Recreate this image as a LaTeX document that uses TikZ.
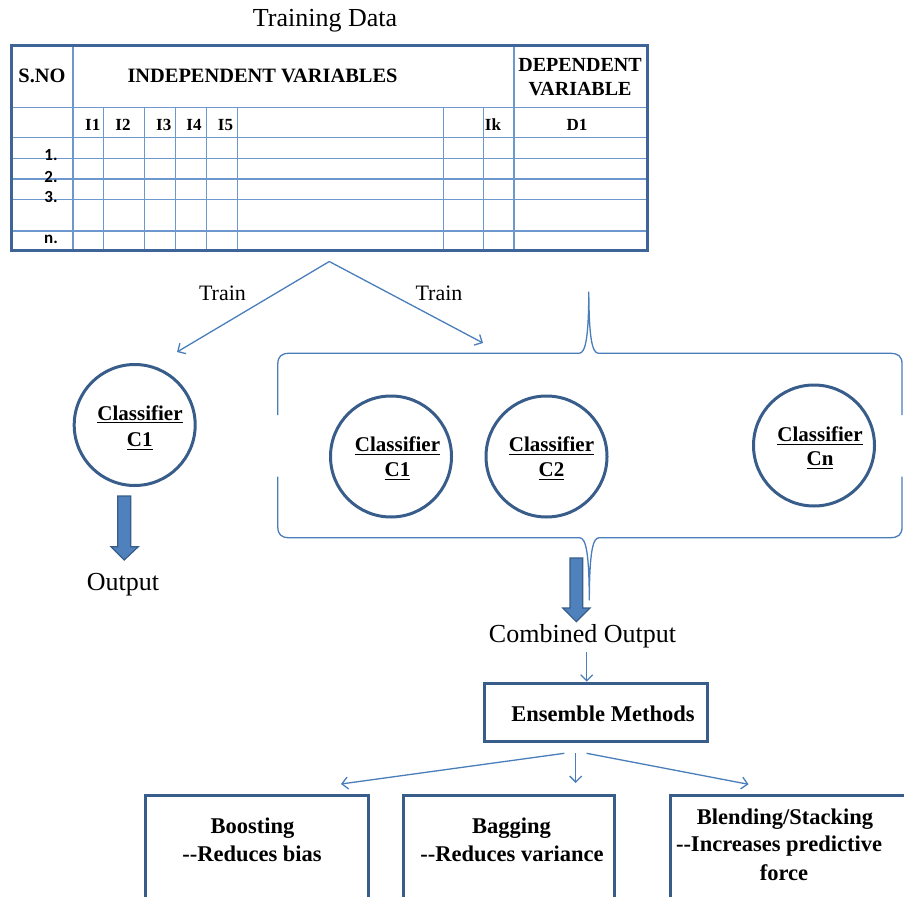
\documentclass[tikz,border=0pt]{standalone}
\usepackage{graphicx}
\usepackage{fontspec}
\setmainfont{Liberation Serif}[BoldFont={Liberation Serif Bold}]
\newfontfamily\heavyserif{Liberation Serif Bold}
\newfontfamily\numfont{Carlito}[BoldFont={Carlito Bold}]
\usetikzlibrary{arrows.meta}

\definecolor{gridouter}{RGB}{62,100,152}
\definecolor{gridinner}{RGB}{108,152,206}
\definecolor{ringblue}{RGB}{56,93,138}
\definecolor{linkblue}{RGB}{74,126,187}
\definecolor{bigfill}{RGB}{79,129,189}

% underline with a weight that suits large text
\newcommand\undl[1]{\setbox0\hbox{#1}\rlap{\rule[-3.2pt]{\wd0}{1.25pt}}\box0}
% bold labels are set at 20pt and enlarged as a whole
\newcommand\clf[1]{\scalebox{1.05}{\undl{#1}}}
\newcommand\bxt[1]{\scalebox{1.125}{#1}}

\tikzset{
  txt/.style={inner sep=0pt, anchor=base},
  hdr/.style={txt, font=\heavyserif\fontsize{20}{24}\selectfont},
  colhdr/.style={txt, font=\heavyserif\fontsize{17}{20}\selectfont},
  rownum/.style={txt, font=\numfont\bfseries\fontsize{17}{19}\selectfont},
  plain/.style={txt, font=\fontsize{26}{30}\selectfont},
  trainlbl/.style={txt, font=\fontsize{22}{26}\selectfont},
  clflbl/.style={txt, font=\heavyserif\fontsize{20}{24}\selectfont},
  boxlbl/.style={txt, font=\heavyserif\fontsize{20}{24}\selectfont},
  ring/.style={draw=ringblue, line width=3pt, circle, minimum size=121pt, inner sep=0pt},
  frame/.style={draw=ringblue, line width=3pt, rectangle, inner sep=0pt},
  gridline/.style={draw=gridinner, line width=1.5pt},
  link/.style={draw=linkblue, line width=1.3pt, -{Straight Barb[length=6pt,width=12pt]}},
  brace/.style={draw=linkblue, line width=1.3pt, line join=round},
  fatarrow/.style={fill=bigfill, draw=ringblue, line width=1.2pt, line join=miter},
}

\begin{document}
\begin{tikzpicture}[x=1pt, y=-1pt]
\useasboundingbox (0,0) rectangle (904,896);
\clip (0,0) rectangle (904,896);

% ---------- training data table ----------
\node[plain] (title) at (325,27) {Training Data};

\foreach \yy in {107.7,137.7,158.3,179,199.7,231}
  \draw[gridline] (11,\yy) -- (648,\yy);
\foreach \xx in {103.7,144.7,175.7,206.3,237.7,443.3,483.3}
  \draw[gridline] (\xx,107.7) -- (\xx,250.5);
\foreach \xx in {73,514}
  \draw[gridline] (\xx,45) -- (\xx,250.5);
\draw[gridouter, line width=2.8pt] (11.5,45.5) rectangle (647.5,250.5);

\node[hdr] (sno) at (42,82.7) {\scalebox{1.02}{S.NO}};
\node[hdr] (indep) at (262.5,82.7) {\scalebox{1.02}{INDEPENDENT VARIABLES}};
\node[hdr] (dep1) at (580,71.7) {DEPENDENT};
\node[hdr] (dep2) at (580,95.7) {VARIABLE};

\node[colhdr] (i1) at (92.7,130.7) {I1};
\node[colhdr] (i2) at (123,130.7) {I2};
\node[colhdr] (i3) at (163.7,130.7) {I3};
\node[colhdr] (i4) at (194,130.7) {I4};
\node[colhdr] (i5) at (225.5,130.7) {I5};
\node[colhdr] (ik) at (493,130.7) {Ik};
\node[colhdr] (d1) at (577,130.7) {D1};

\node[rownum] (r1) at (51,160.5) {1.};
\node[rownum] (r2) at (51,182.5) {2.};
\node[rownum] (r3) at (51,202.5) {3.};
\node[rownum] (rn) at (51,243.3) {n.};

% ---------- training split ----------
\coordinate (fork) at (329.3,261.5);
\coordinate (leftend) at (177,352);
\coordinate (rightend) at (483,343);
\draw[link] (fork) -- (leftend);
\draw[link] (fork) -- (rightend);
\node[trainlbl] (trainL) at (222.5,300.7) {Train};
\node[trainlbl] (trainR) at (439,300.7) {Train};

% ---------- single classifier ----------
\node[ring] (single) at (134.7,425) {};
\node[clflbl] (singleA) at (140,420) {\clf{Classifier}};
\node[clflbl] (singleB) at (139.7,446.5) {\clf{C1}};

\draw[fatarrow] (117.7,496) -- (130.7,496) -- (130.7,546.7) -- (138.3,546.7)
  -- (124.2,560) -- (111,546.7) -- (117.7,546.7) -- cycle;
\node[plain] (out) at (123,590) {Output};

% ---------- ensemble group enclosed by braces ----------
\draw[brace] (277.8,415) -- (277.8,364)
  .. controls (277.8,356.5) and (281.5,353.3) .. (289,353.3) -- (579,353.3)
  .. controls (585.5,353.3) and (588.6,338) .. (588.8,292)
  .. controls (589,338) and (592.1,353.3) .. (598.6,353.3) -- (890,353.3)
  .. controls (898.5,353.3) and (902,356.5) .. (902,364) -- (902,415);
\draw[brace] (277.8,476.7) -- (277.8,527)
  .. controls (277.8,534.5) and (281.5,537.7) .. (289,537.7) -- (579.5,537.7)
  .. controls (586,537.7) and (589.1,553) .. (589.3,600)
  .. controls (589.5,553) and (592.6,537.7) .. (599.1,537.7) -- (890,537.7)
  .. controls (898.5,537.7) and (902,534.5) .. (902,527) -- (902,476.7);

\node[ring] (ca) at (391,456.5) {};
\node[clflbl] (caA) at (397.5,451.7) {\clf{Classifier}};
\node[clflbl] (caB) at (397.5,476.7) {\clf{C1}};

\node[ring] (cb) at (546.5,456.5) {};
\node[clflbl] (cbA) at (551.5,451.7) {\clf{Classifier}};
\node[clflbl] (cbB) at (551.5,476.7) {\clf{C2}};

\node[ring] (cn) at (814,445.5) {};
\node[clflbl] (cnA) at (820,441.7) {\clf{Classifier}};
\node[clflbl] (cnB) at (820,465.5) {\clf{Cn}};

\draw[fatarrow] (570,558) -- (582.7,558) -- (582.7,608) -- (590,608)
  -- (576.3,621.7) -- (562.7,608) -- (570,608) -- cycle;
\node[plain] (comb) at (582.5,642.7) {Combined Output};

% ---------- ensemble methods ----------
\node[frame, minimum width=223pt, minimum height=58.6pt] (ens) at (596,712.5) {};
\node[boxlbl] (ensT) at (603,721) {\bxt{Ensemble Methods}};

\coordinate (combfoot) at (586.7,651.7);
\draw[link] (combfoot) -- (ens.north -| combfoot);

\node[frame, minimum width=223.6pt, minimum height=124.5pt] (boost) at (257.1,857.7) {};
\node[frame, minimum width=211.7pt, minimum height=124.5pt] (bag) at (508.9,857.7) {};
\node[frame, minimum width=259pt, minimum height=124.5pt] (blend) at (800,857.7) {};

\coordinate (eL) at (564.3,753.3);
\coordinate (eM) at (575.7,753.3);
\coordinate (eR) at (586.6,753.3);
\coordinate (tL) at (341,784);
\coordinate (tM) at (575.7,783);
\coordinate (tR) at (748.5,784.3);
\draw[link] (eL) -- (tL);
\draw[link] (eM) -- (tM);
\draw[link] (eR) -- (tR);

\node[boxlbl] (boostA) at (252.4,833.3) {\bxt{Boosting}};
\node[boxlbl] (boostB) at (252,861.7) {\bxt{-{}-Reduces bias}};
\node[boxlbl] (bagA) at (511.5,833.3) {\bxt{Bagging}};
\node[boxlbl] (bagB) at (512,861.7) {\bxt{-{}-Reduces variance}};
\node[boxlbl] (blendA) at (785,824) {\bxt{Blending/Stacking}};
\node[boxlbl] (blendB) at (779,851.7) {\bxt{-{}-Increases predictive}};
\node[boxlbl] (blendC) at (784,880) {\bxt{force}};
\end{tikzpicture}
\end{document}
